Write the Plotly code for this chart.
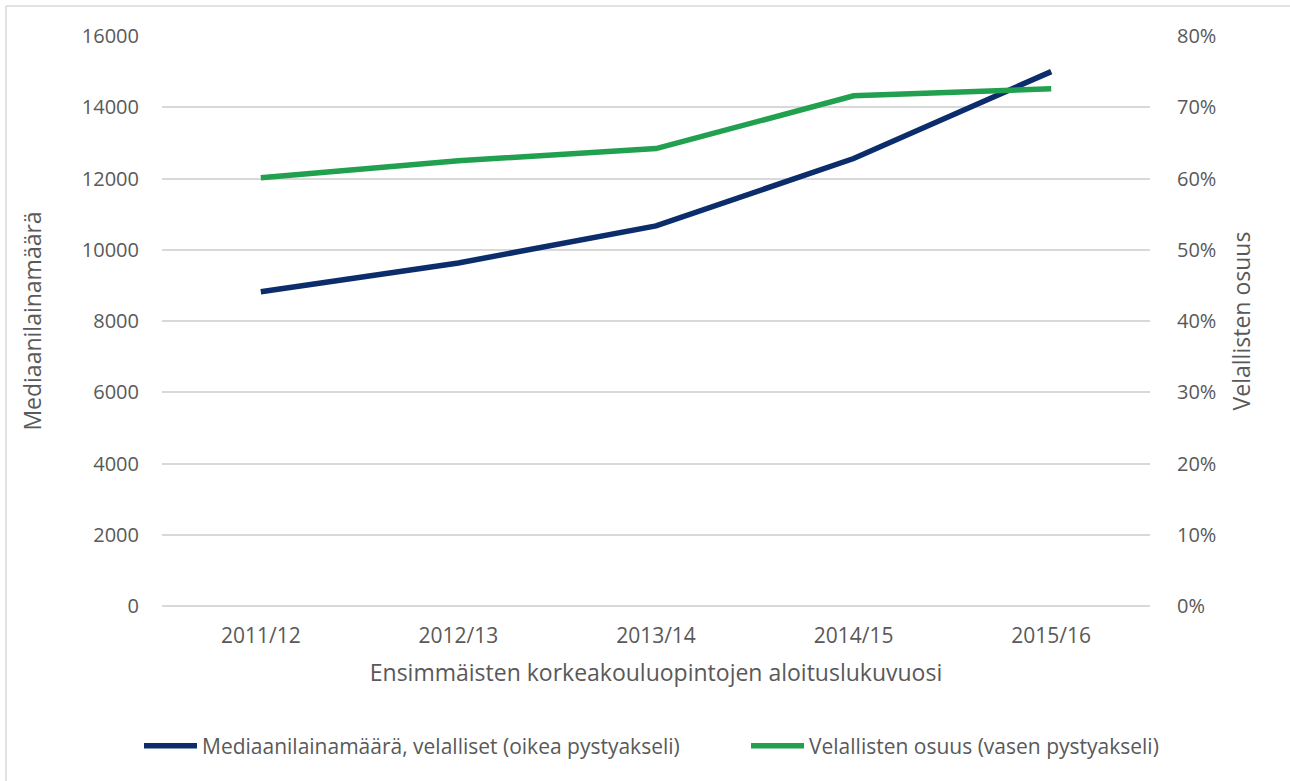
import plotly.graph_objects as go

categories = ["2011/12", "2012/13", "2013/14", "2014/15", "2015/16"]
median_loan = [8820, 9630, 10670, 12560, 15000]
debtor_share = [0.601, 0.625, 0.642, 0.716, 0.726]

left_ticks = [0, 2000, 4000, 6000, 8000, 10000, 12000, 14000, 16000]
right_ticks = [0, 0.1, 0.2, 0.3, 0.4, 0.5, 0.6, 0.7, 0.8]

navy = "#0C2D6B"
green = "#21A04F"
txt = "#595959"
font_family = "Open Sans, Lato, sans-serif"

W, H = 1290, 781
L, R, T, B = 162, 140, 36, 175
pw, ph = W - L - R, H - T - B

fig = go.Figure()
fig.add_trace(go.Scatter(
    x=categories, y=median_loan, mode="lines", yaxis="y", legend="legend",
    name="Mediaanilainamäärä, velalliset (oikea pystyakseli)",
    line=dict(color=navy, width=5.5)))
fig.add_trace(go.Scatter(
    x=categories, y=debtor_share, mode="lines", yaxis="y2", legend="legend2",
    name="Velallisten osuus (vasen pystyakseli)",
    line=dict(color=green, width=5.5)))

def px_x(p):
    return (p - L) / pw

def px_y(p):
    return (H - B - p) / ph

leg_common = dict(orientation="h", xanchor="left", y=px_y(746), yanchor="middle",
                  font=dict(size=21, color=txt), itemwidth=53,
                  bgcolor="rgba(0,0,0,0)")

fig.update_layout(
    width=W, height=H,
    margin=dict(l=L, r=R, t=T, b=B, autoexpand=False),
    paper_bgcolor="white", plot_bgcolor="white",
    font=dict(family=font_family, color=txt, size=19),
    showlegend=True,
    legend=dict(x=px_x(139), **leg_common),
    legend2=dict(x=px_x(746), **leg_common),
    xaxis=dict(range=[-0.5, 4.5], showgrid=False, showline=False,
               ticks="", tickfont=dict(size=21, color=txt),
               ticklabelstandoff=15,
               title=dict(text="Ensimmäisten korkeakouluopintojen aloituslukuvuosi",
                          font=dict(size=23, color=txt), standoff=16)),
    yaxis=dict(range=[0, 16000], tickvals=left_ticks,
               ticktext=[str(v) for v in left_ticks],
               showgrid=True, gridcolor="#D9D9D9", gridwidth=1.5,
               zeroline=True, zerolinecolor="#D9D9D9", zerolinewidth=1.5,
               showline=False, ticks="", ticklabelstandoff=22,
               tickfont=dict(size=20, color=txt),
               title=dict(text="Mediaanilainamäärä", font=dict(size=23, color=txt), standoff=33)),
    yaxis2=dict(range=[0, 0.8], tickvals=right_ticks,
                ticktext=[f"{int(round(v*100))}%" for v in right_ticks],
                overlaying="y", side="right", showgrid=False, zeroline=False,
                showline=False, ticks="", ticklabelstandoff=26,
                tickfont=dict(size=20, color=txt),
                title=dict(text="Velallisten osuus", font=dict(size=23, color=txt), standoff=18)),
    shapes=[
        dict(type="line", xref="paper", yref="paper",
             x0=px_x(6), x1=px_x(1295), y0=px_y(6), y1=px_y(6),
             line=dict(color="#D9D9D9", width=1.5)),
        dict(type="line", xref="paper", yref="paper",
             x0=px_x(6), x1=px_x(6), y0=px_y(6), y1=px_y(790),
             line=dict(color="#D9D9D9", width=1.5)),
    ],
)

fig.write_html("out.html", config={"displayModeBar": False},
               post_script="document.body.style.margin='0px';")
